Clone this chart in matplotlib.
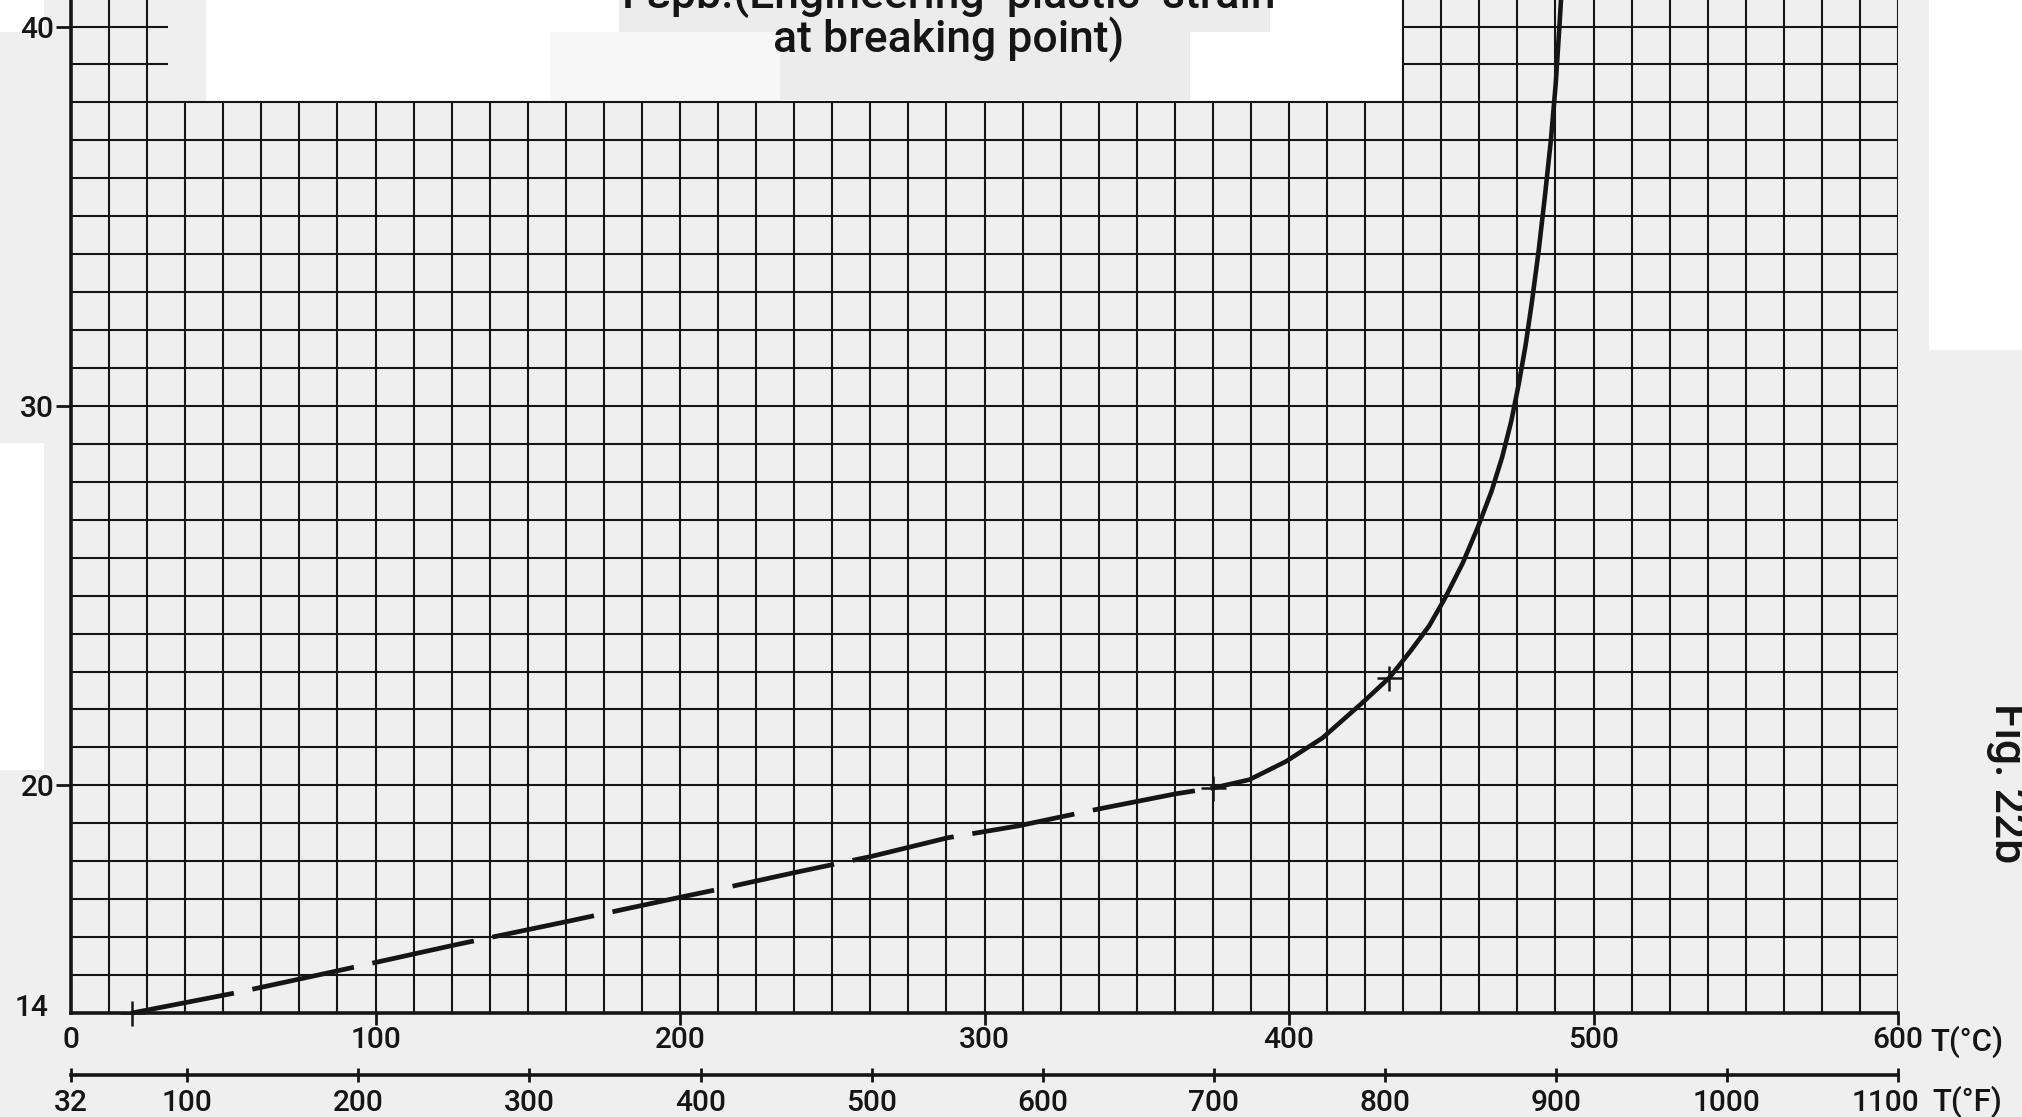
import numpy as np
import matplotlib
matplotlib.use('Agg')
import matplotlib.pyplot as plt
from matplotlib.patches import Rectangle
from matplotlib.transforms import ScaledTranslation

# values: T in degC, engineering plastic strain at break in %
tempDashed = [20, 54, 88, 127, 164, 200, 212, 237, 263, 288, 311, 337, 363, 375]
strainDashed = [14.0, 14.53, 15.12, 15.81, 16.43, 17.05, 17.25, 17.69, 18.13, 18.62, 18.93, 19.37, 19.78, 19.93]

tempSolid = [375, 387, 399, 411, 424, 433, 440, 446, 451, 457, 462, 466.5, 470, 473, 475.5,
	477.7, 479.7, 482, 484, 486, 487.6, 488.8, 489.4]
strainSolid = [19.93, 20.15, 20.63, 21.25, 22.17, 22.84, 23.55, 24.2, 24.9, 25.85, 26.8, 27.75, 28.65, 29.6, 30.6,
	31.6, 32.7, 34.1, 35.5, 37.0, 38.5, 40.0, 40.8]

markerTemp = [20, 375, 433]
markerStrain = [14.0, 19.93, 22.84]

celsiusTicks = [0, 100, 200, 300, 400, 500, 600]
fahrenheitTicks = [32, 100, 200, 300, 400, 500, 600, 700, 800, 900, 1000, 1100]
strainTicks = [14, 20, 30, 40]

W, H = 2022, 1117
ink = '#151515'
paper = '#efefef'

plt.rcParams['font.family'] = ['Roboto', 'DejaVu Sans']
plt.rcParams['font.weight'] = 'medium'


def addPatch(fig, x0, y0, x1, y1, color):
	# rectangle given in image pixels, origin top left
	fig.add_artist(Rectangle((x0 / W, 1 - y1 / H), (x1 - x0) / W, (y1 - y0) / H,
		transform=fig.transFigure, facecolor=color, edgecolor='none', zorder=-5))


fig = plt.figure(figsize=(W / 100, H / 100), dpi=100, facecolor=paper)

# scan patches
addPatch(fig, 206, 0, 1402, 103, '#ffffff')
addPatch(fig, 550, 32, 780, 103, '#f7f7f7')
addPatch(fig, 619, 0, 1270, 32, '#ececec')
addPatch(fig, 780, 32, 1190, 100, '#ececec')
addPatch(fig, 1929, 0, 2022, 350, '#ffffff')
addPatch(fig, 0, 0, 44, 32, '#ffffff')
addPatch(fig, 0, 443, 44, 770, '#ffffff')

left = 71 / W
width = (1898 - 71) / W
bottom = (H - 1013) / H
ax = fig.add_axes([left, bottom, width, 1 - bottom])
ax.patch.set_alpha(0)
ax.set_xlim(0, 600)
ax.set_ylim(14, 40.7)

# graph paper: 12.5 degC by 1 % squares
cols = np.arange(12.5, 600.1, 12.5)
rows = np.arange(15, 38.1, 1)
gridKw = dict(color=ink, lw=1.5, zorder=1)
ax.vlines(cols, 14, 38, **gridKw)
ax.hlines(rows, 0, 600, **gridKw)
topCols = [c for c in cols if c <= 25 or c >= 437.5]
ax.vlines(topCols, 38, 40.7, **gridKw)
ax.hlines([39, 40], 0, 32, **gridKw)
ax.hlines([39, 40], 437.5, 600, **gridKw)

ax.plot(tempDashed, strainDashed, color=ink, lw=3.4, dashes=(22, 4), dash_capstyle='butt', zorder=3)
ax.plot(tempSolid, strainSolid, color=ink, lw=3.3, zorder=3, solid_joinstyle='round')
ax.plot(markerTemp, markerStrain, '+', ms=18, mew=1.8, color=ink, linestyle='none', clip_on=False, zorder=4)

for side in ['top', 'right']:
	ax.spines[side].set_visible(False)
for side in ['left', 'bottom']:
	ax.spines[side].set_linewidth(2.6)
	ax.spines[side].set_color(ink)

ax.set_yticks(strainTicks)
ax.set_yticklabels([str(v) for v in strainTicks])
ax.tick_params(axis='y', direction='out', length=11, width=2, pad=1, labelsize=21.5, colors=ink)
ax.yaxis.get_major_ticks()[0].tick1line.set_visible(False)
lbl14 = ax.get_yticklabels()[0]
lbl14.set_transform(lbl14.get_transform() + ScaledTranslation(-4 / 72, 6 / 72, fig.dpi_scale_trans))

ax.set_xticks(celsiusTicks)
ax.set_xticklabels([str(v) for v in celsiusTicks])
ax.tick_params(axis='x', direction='out', length=8.5, width=2, pad=1, labelsize=21.5, colors=ink)
ax.xaxis.get_major_ticks()[0].tick1line.set_visible(False)

ax.annotate('T(°C)', xy=(610.5, 0), xycoords=('data', 'axes fraction'), xytext=(0, -9.5),
	textcoords='offset points', ha='left', va='top', fontsize=22.5, color=ink)

# fahrenheit scale under the celsius one
axF = fig.add_axes([left, (H - 1075) / H, width, 1e-4])
axF.patch.set_alpha(0)
axF.set_xlim(32, 1100)
axF.set_yticks([])
for side in ['top', 'left', 'right']:
	axF.spines[side].set_visible(False)
axF.spines['bottom'].set_linewidth(2.6)
axF.spines['bottom'].set_color(ink)
axF.set_xticks(fahrenheitTicks)
axF.set_xticklabels([str(v) for v in fahrenheitTicks])
axF.tick_params(axis='x', direction='inout', length=10, width=2, pad=5, labelsize=21.5, colors=ink)
lbl1100 = axF.get_xticklabels()[-1]
lbl1100.set_transform(lbl1100.get_transform() + ScaledTranslation(-9 / 72, 0, fig.dpi_scale_trans))
axF.annotate('T(°F)', xy=(1120, 0), xycoords=('data', 'axes fraction'), xytext=(0, -8),
	textcoords='offset points', ha='left', va='top', fontsize=22.5, color=ink)

# title, cut off at the top edge as in the scan
fig.text(949 / W, 1 - 8 / H, 'Fεpb.(Engineering  plastic  strain', ha='center', va='baseline', fontsize=32, color=ink)
fig.text(949 / W, 1 - 52 / H, 'at breaking point)', ha='center', va='baseline', fontsize=32, color=ink)

fig.text(1986 / W, 1 - 783 / H, 'Fig. 22b', rotation=270, ha='left', va='center', fontsize=32, color=ink)

fig.savefig('out.png', dpi=100, facecolor=paper)
